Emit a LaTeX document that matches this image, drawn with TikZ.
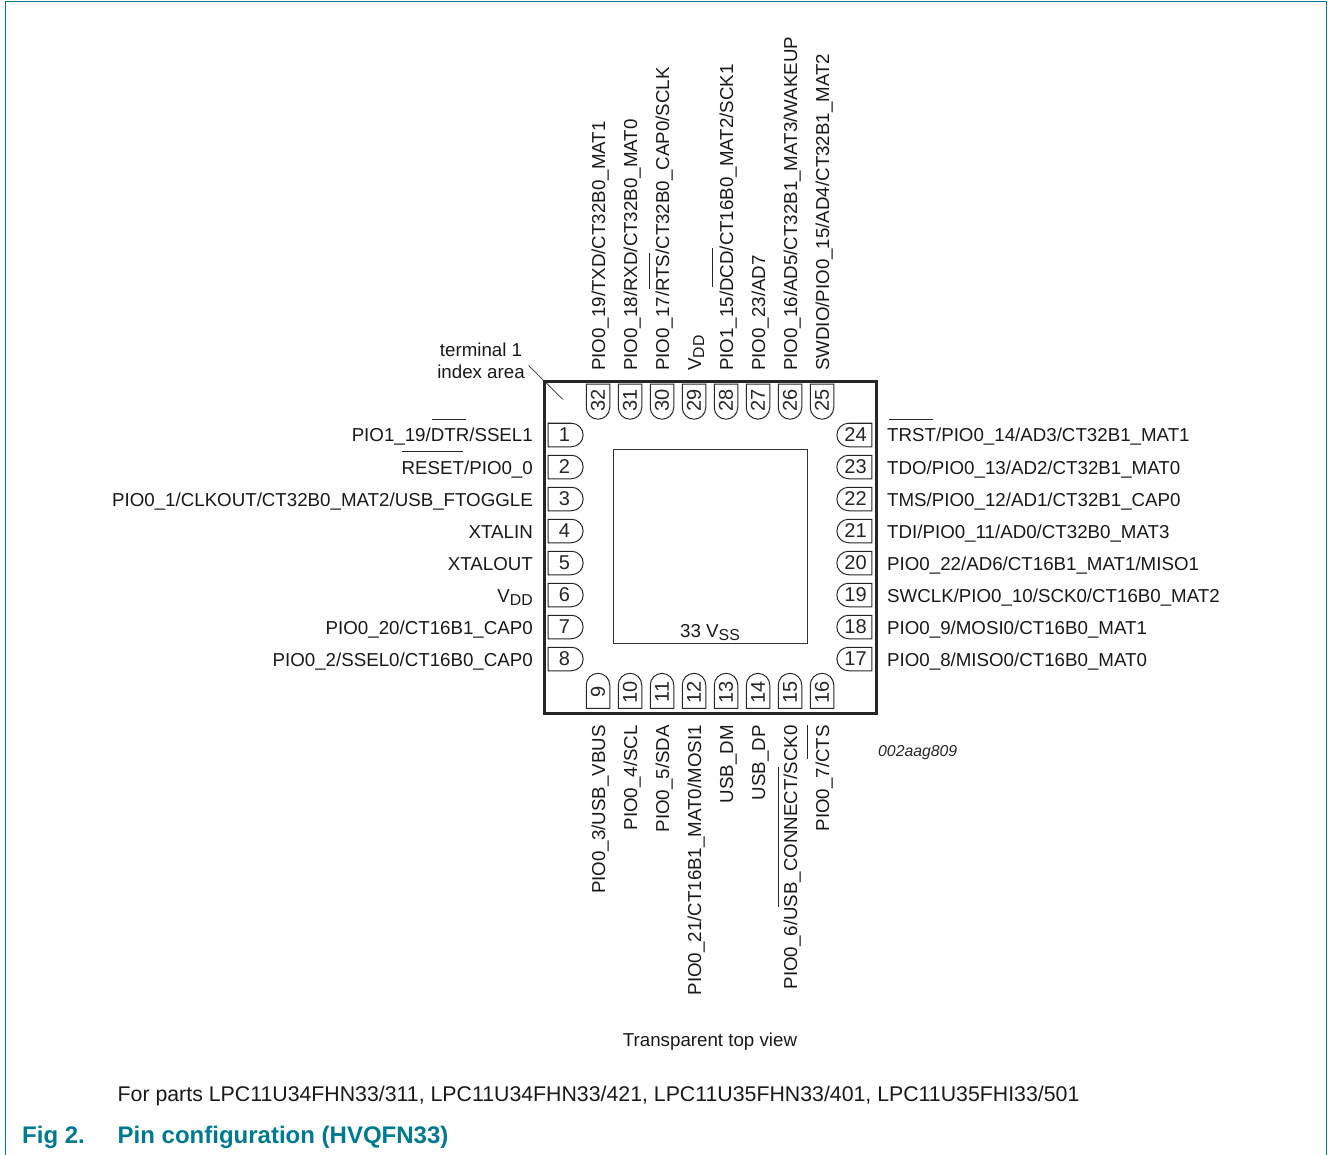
\documentclass[tikz,border=0pt]{standalone}
\usepackage{fontspec}
\setmainfont{Liberation Sans}
\usetikzlibrary{shapes.misc}
\definecolor{nxpteal}{RGB}{0,122,146}
\newcommand{\lowsub}[1]{\raisebox{-3pt}{\fontsize{15.8}{18}\selectfont #1}}
\tikzset{
 x=1pt,y=-1pt,
 lab/.style={font=\fontsize{18.72}{22}\selectfont,inner sep=0pt,text=black!90},
 pinbase/.style={draw=black!85,line width=1pt,rounded rectangle,rounded rectangle arc length=180,minimum width=35pt,minimum height=23.5pt,inner sep=0pt,font=\fontsize{20}{22}\selectfont,text=black!85},
 pinleft/.style={pinbase,rounded rectangle west arc=none},
 pinright/.style={pinbase,rounded rectangle east arc=none},
 over/.style={draw=black!85,line width=0.8pt},
}
\begin{document}
\begin{tikzpicture}
\useasboundingbox (0,0) rectangle (1328,1155);
\draw[nxpteal,line width=1pt] (5.5,1155) -- (5.5,1.5) -- (1326.5,1.5) -- (1326.5,1155);
\node[draw=black!85,line width=3pt,minimum width=332pt,minimum height=332pt,inner sep=0pt,anchor=north west] (chip) at (543,380) {};
\node[draw=black!80,line width=1pt,minimum width=194pt,minimum height=194.5pt,inner sep=0pt,anchor=north west] (pad) at (612.5,448.5) {};
\node[lab,anchor=base] (vss) at (710,637) {33 V\lowsub{SS}};
% left
\foreach \n/\y/\t in {1/435/{PIO1\_19/DTR/SSEL1},2/467/{RESET/PIO0\_0},3/499/{PIO0\_1/CLKOUT/CT32B0\_MAT2/USB\_FTOGGLE},4/531/XTALIN,5/563/XTALOUT,6/595/{V\lowsub{DD}},7/627/{PIO0\_20/CT16B1\_CAP0},8/659/{PIO0\_2/SSEL0/CT16B0\_CAP0}}{
 \node[pinleft] (p\n) at (564.5,\y) {\n};
 \node[lab,anchor=base east] (l\n) at (533,\y+7) {\t};
}
% right
\foreach \n/\y/\t in {24/435/{TRST/PIO0\_14/AD3/CT32B1\_MAT1},23/467/{TDO/PIO0\_13/AD2/CT32B1\_MAT0},22/499/{TMS/PIO0\_12/AD1/CT32B1\_CAP0},21/531/{TDI/PIO0\_11/AD0/CT32B0\_MAT3},20/563/{PIO0\_22/AD6/CT16B1\_MAT1/MISO1},19/595/{SWCLK/PIO0\_10/SCK0/CT16B0\_MAT2},18/627/{PIO0\_9/MOSI0/CT16B0\_MAT1},17/659/{PIO0\_8/MISO0/CT16B0\_MAT0}}{
 \node[pinright] (p\n) at (855.5,\y) {\n};
 \node[lab,anchor=base west] (l\n) at (887,\y+7) {\t};
}
% top
\foreach \n/\x/\t in {32/598/{PIO0\_19/TXD/CT32B0\_MAT1},31/630/{PIO0\_18/RXD/CT32B0\_MAT0},30/662/{PIO0\_17/RTS/CT32B0\_CAP0/SCLK},29/694/{V\lowsub{DD}},28/726/{PIO1\_15/DCD/CT16B0\_MAT2/SCK1},27/758/{PIO0\_23/AD7},26/790/{PIO0\_16/AD5/CT32B1\_MAT3/WAKEUP},25/822/{SWDIO/PIO0\_15/AD4/CT32B1\_MAT2}}{
 \node[pinright,rotate=90] (p\n) at (\x,400.5) {\n};
 \node[lab,rotate=90,anchor=base west] (l\n) at (\x+7,371) {\t};
}
% bottom
\foreach \n/\x/\t in {9/598/{PIO0\_3/USB\_VBUS},10/630/{PIO0\_4/SCL},11/662/{PIO0\_5/SDA},12/694/{PIO0\_21/CT16B1\_MAT0/MOSI1},13/726/{USB\_DM},14/758/{USB\_DP},15/790/{PIO0\_6/USB\_CONNECT/SCK0},16/822/{PIO0\_7/CTS}}{
 \node[pinleft,rotate=90] (p\n) at (\x,692) {\n};
 \node[lab,rotate=90,anchor=base east] (l\n) at (\x+7,725) {\t};
}
% overlines
\draw[over] (432,419) -- (466,419);
\draw[over] (402,451) -- (463,451);
\draw[over] (889,419) -- (933,419);
\draw[over] (649,253) -- (649,289);
\draw[over] (712,248) -- (712,287);
\draw[over] (778,767) -- (778,907);
\draw[over] (807,725) -- (807,759);
% index
\node[lab,align=center,anchor=base] (idx) at (481,379) {terminal 1\\[0pt]index area};
\coordinate (ia) at (528.5,365.5);
\coordinate (ib) at (563,399.5);
\draw[black!80,line width=0.7pt] (ia) -- (ib);
\node[font=\fontsize{15.8}{18}\selectfont\itshape,inner sep=0pt,anchor=base west,text=black!85] (code) at (878,756) {002aag809};
\node[lab,anchor=base] (tv) at (710,1046) {Transparent top view};
\node[font=\fontsize{21.3}{26}\selectfont,inner sep=0pt,text=black!90,anchor=base west] (parts) at (117.5,1101) {For parts LPC11U34FHN33/311, LPC11U34FHN33/421, LPC11U35FHN33/401, LPC11U35FHI33/501};
\node[font=\fontsize{24}{26}\selectfont\bfseries,text=nxpteal,inner sep=0pt,anchor=base west] (fig) at (22,1143) {Fig 2.};
\node[font=\fontsize{24}{26}\selectfont\bfseries,text=nxpteal,inner sep=0pt,anchor=base west] (title) at (117.5,1143) {Pin configuration (HVQFN33)};
\end{tikzpicture}
\end{document}
